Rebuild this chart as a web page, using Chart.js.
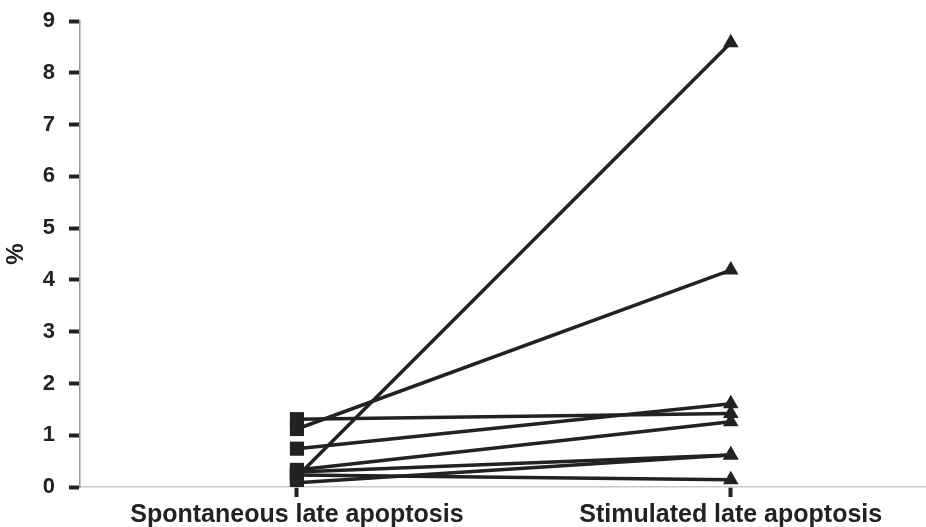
<!DOCTYPE html>
<html>
<head>
<meta charset="utf-8">
<script src="https://cdn.jsdelivr.net/npm/chart.js@4"></script>
<style>
  html, body { margin: 0; padding: 0; background: #fff; }
  #wrap { width: 926px; height: 527px; }
</style>
</head>
<body>
<div id="wrap"><canvas id="apoptosisChart" width="926" height="527"></canvas></div>
<script>
const categories = ['Spontaneous late apoptosis', 'Stimulated late apoptosis'];
// one pair per subject: [spontaneous, stimulated]
const spontaneous = [0.20, 1.12, 0.74, 1.31, 0.33, 0.29, 0.08, 0.23];
const stimulated = [8.58, 4.19, 1.61, 1.42, 1.26, 0.62, 0.62, 0.14];
const yTicks = [0, 1, 2, 3, 4, 5, 6, 7, 8, 9];

const ink = '#222222';
const fontFamily = '"Liberation Sans", Arial, sans-serif';

const datasets = spontaneous.map((v, i) => ({
  data: [{ x: 0, y: v }, { x: 1, y: stimulated[i] }],
  borderColor: ink,
  borderWidth: 3.5,
  backgroundColor: ink,
  pointBackgroundColor: ink,
  pointBorderWidth: 0,
  pointStyle: ['rect', 'triangle'],
  pointRadius: [10, 9],
  showLine: true,
  fill: false,
}));

new Chart(document.getElementById('apoptosisChart'), {
  type: 'scatter',
  data: { datasets },
  options: {
    responsive: false,
    animation: false,
    layout: { autoPadding: false, padding: { top: 21, right: 0, left: 0, bottom: 0 } },
    plugins: { legend: { display: false }, tooltip: { enabled: false } },
    scales: {
      x: {
        type: 'linear',
        min: -0.5,
        max: 1.45,
        afterBuildTicks: s => { s.ticks = [{ value: 0 }, { value: 1 }]; },
        afterFit: s => { s.height = 40; s.paddingLeft = 0; s.paddingRight = 0; },
        border: { color: '#c8c8c8', width: 1.5 },
        grid: { drawOnChartArea: false, tickLength: 10, tickWidth: 4, tickColor: ink },
        ticks: {
          color: ink,
          padding: 3,
          maxRotation: 0,
          font: { family: fontFamily, size: 25, weight: 'bold' },
          callback: v => categories[v],
        },
      },
      y: {
        min: 0,
        max: 9,
        afterBuildTicks: s => { s.ticks = yTicks.map(v => ({ value: v })); },
        afterFit: s => { s.width = 80; s.paddingTop = 0; s.paddingBottom = 0; },
        border: { color: '#999999', width: 1.5 },
        grid: { drawOnChartArea: false, tickLength: 11, tickWidth: 4, tickColor: ink },
        title: {
          display: true,
          text: '%',
          color: ink,
          padding: { top: 2, bottom: 4 },
          font: { family: fontFamily, size: 24, weight: 'bold' },
        },
        ticks: {
          color: ink,
          padding: 14,
          font: { family: fontFamily, size: 22, weight: 'bold' },
        },
      },
    },
  },
});
</script>
</body>
</html>
